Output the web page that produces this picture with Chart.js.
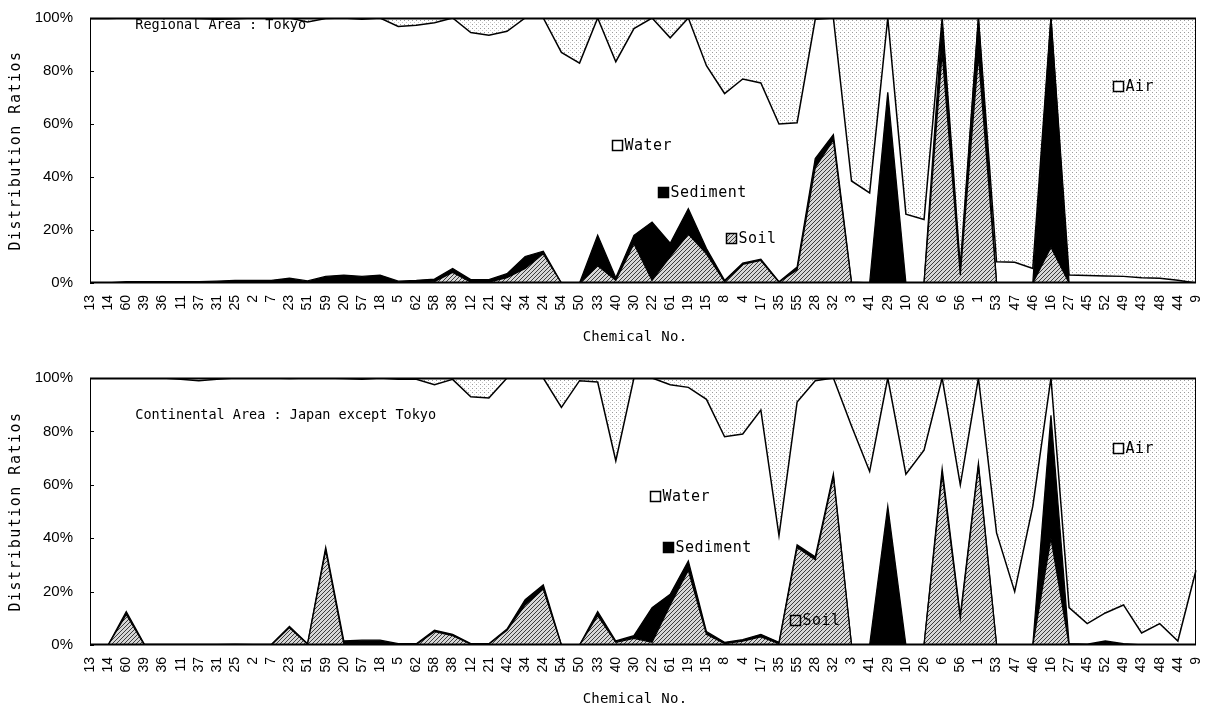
<!DOCTYPE html>
<html>
<head>
<meta charset="utf-8">
<script src="https://cdn.jsdelivr.net/npm/chart.js@4.4.1/dist/chart.umd.min.js"></script>
<style>
  html, body { margin: 0; padding: 0; background: #fff; }
  #wrap { position: relative; width: 1205px; height: 713px; }
  .box { position: absolute; left: 0; width: 1205px; }
</style>
</head>
<body>
<div id="wrap">
  <div class="box" style="top:0;height:356px"><canvas id="tokyo"></canvas></div>
  <div class="box" style="top:356px;height:357px"><canvas id="japan"></canvas></div>
</div>
<script>
// ─── DATA ─────────────────────────────────────────────────────────────────────

const chemicalNo = ['13','14','60','39','36','11','37','31','25','2','7','23','51','59','20','57','18','5','62','58',
  '38','12','21','42','34','24','54','50','33','40','30','22','61','19','15','8','4','17','35','55',
  '28','32','3','41','29','10','26','6','56','1','53','47','46','16','27','45','52','49','43','48','44','9'];

const yTicks = [0, 20, 40, 60, 80, 100];

// Regional area : Tokyo (% of each chemical)
const tokyoSoil = [0,0,0,0,0,0,0,0,0,0, 0,0.3,0,0.3,0.3,0.3,0.3,0,0.2,0.5,
  4,0.3,0.3,2,5.5,11,0,0,6.5,1, 14.8,1,10,18.5,11,0.5,7,8.5,0.3,5,
  43.5,54,0,0,0,0,0,87,3,86, 0,0,0,13.5,0,0,0,0,0,0,0,0];
const tokyoSediment = [0,0,0.5,0.5,0.5,0.5,0.5,0.7,1,1, 1,1.5,0.8,2.2,2.7,2.2,2.7,0.7,0.8,1,
  1.5,1,1,1.5,4.5,1,0,0,11.5,1, 3.2,22,5,9.5,2,0.5,0.5,0.5,0.2,1,
  3.5,2,0.3,0,72,0,0,11,0.5,14, 0,0,0,86.5,0,0,0,0,0,0,0,0];
const tokyoWater = [99.8,99.8,99.5,99.5,99.5,99.5,99.3,98.8,98.7,99, 99,98.2,97.7,97.3,97,97,97,96.1,96.3,96.7,
  94.5,93.2,92.2,91.5,90,88,87,83,82,81.5, 78,77,77.5,72,69,70.5,69.5,66.5,59.5,54.5,
  52.5,44,38.2,34,28,26,24,2,2.5,0, 8,7.8,5.5,0,3,2.8,2.6,2.5,2,1.8,1,0];
const tokyoAir = [0.2,0.2,0,0,0,0,0.2,0.5,0.3,0, 0,0,1.5,0.2,0,0.5,0,3.2,2.7,1.8,
  0,5.5,6.5,5,0,0,13,17,0,16.5, 4,0,7.5,0,18,28.5,23,24.5,40,39.5,
  0.5,0,61.5,66,0,74,76,0,94,0, 92,92.2,94.5,0,97,97.2,97.4,97.5,98,98.2,99,100];

// Continental area : Japan except Tokyo
const japanSoil = [0,0,11.5,0,0,0,0,0,0,0, 0,6.5,0.3,35.5,0.3,0,0.2,0,0.2,5,
  3.5,0.3,0.3,5.5,15,21,0,0,11,1, 2.5,1,15,28,4,0.5,1.5,3,0.5,36.5,
  32,63,0,0,0,0,0,64,10,67, 0,0,0,40,0,0,0.5,0,0,0,0,0];
const japanSediment = [0,0,1,0.3,0.2,0.2,0.2,0.2,0.3,0.2, 0.2,0.5,0.2,1,1.2,1.8,1.6,0.5,0.3,0.5,
  0.5,0.2,0.2,0.5,2,1.5,0,0,1.5,0.5, 1,13,4,3.5,1,0.5,0.5,1,0.5,1,
  1,1,0,0,52,0,0,2,1,1, 0,0,0,46,0.5,0.3,1,0.5,0,0,0,0];
const japanWater = [100,100,87.5,99.7,99.8,99.3,98.8,99.3,99.7,99.8, 99.8,92.8,99.5,63.5,98.3,97.7,98.2,99,99,92,
  95.5,92.5,92,94,83,77.5,89,99,86,67.5, 96.5,86,78.5,65,87,77,77,84,40,53.5,
  66,36,82,65,48,64,73,34,49,32, 42,20,52,14,13.5,7.7,10.5,14.5,4.5,8,1.5,28];
const japanAir = [0,0,0,0,0,0.5,1,0.5,0,0, 0,0.2,0,0,0.2,0.5,0,0.5,0.5,2.5,
  0.5,7,7.5,0,0,0,11,1,1.5,31, 0,0,2.5,3.5,8,22,21,12,59,9,
  1,0,18,35,0,36,27,0,40,0, 58,80,48,0,86,92,88,85,95.5,92,98.5,72];

// ─── FILL PATTERNS ────────────────────────────────────────────────────────────

function makePattern(size, draw) {
  const c = document.createElement('canvas');
  c.width = c.height = size;
  const g = c.getContext('2d');
  draw(g);
  return g.createPattern(c, 'repeat');
}

const soilFill = makePattern(4, g => {
  g.fillStyle = '#d6d6d6';
  g.fillRect(0, 0, 4, 4);
  g.fillStyle = '#3c3c3c';
  for (let i = 0; i < 4; i++) g.fillRect(i, 3 - i, 1, 1);
});

const airFill = makePattern(4, g => {
  g.fillStyle = '#ffffff';
  g.fillRect(0, 0, 4, 4);
  g.fillStyle = '#9a9a9a';
  g.fillRect(0, 0, 1, 1);
  g.fillStyle = '#c8c8c8';
  g.fillRect(2, 2, 1, 1);
});

const MONO = '"DejaVu Sans Mono", "Liberation Mono", monospace';
const SANS = '"Liberation Sans", Arial, sans-serif';

// ─── DECORATION PLUGIN ────────────────────────────────────────────────────────

const decor = {
  id: 'decor',
  afterDatasetsDraw(chart, args, opts) {
    const { ctx, chartArea: a, scales: { x, y } } = chart;
    ctx.save();
    ctx.strokeStyle = '#000';

    // frame
    ctx.lineWidth = 1;
    ctx.strokeRect(a.left + 0.5, a.top + 0.5, a.width - 1, a.height - 1);
    ctx.lineWidth = 2;
    ctx.beginPath();
    ctx.moveTo(a.left, a.top + 0.5);
    ctx.lineTo(a.right, a.top + 0.5);
    ctx.moveTo(a.left, a.bottom - 0.5);
    ctx.lineTo(a.right, a.bottom - 0.5);
    ctx.stroke();

    // small inner ticks on the left axis
    ctx.lineWidth = 1;
    ctx.beginPath();
    yTicks.forEach(v => {
      const py = Math.round(y.getPixelForValue(v)) + 0.5;
      ctx.moveTo(a.left, py);
      ctx.lineTo(a.left + 4, py);
    });
    ctx.stroke();

    // area caption
    ctx.fillStyle = '#000';
    ctx.textBaseline = 'middle';
    ctx.textAlign = 'left';
    ctx.font = '13.5px ' + MONO;
    ctx.fillText(opts.caption, x.getPixelForValue(opts.captionAt[0]), y.getPixelForValue(opts.captionAt[1]));

    // legend tags
    ctx.font = '15px ' + MONO;
    ctx.letterSpacing = '0.5px';
    opts.tags.forEach(t => {
      const px = Math.round(x.getPixelForValue(t.at[0])) + 0.5;
      const py = Math.round(y.getPixelForValue(t.at[1])) + 0.5;
      ctx.fillStyle = t.fill;
      ctx.fillRect(px, py - 5, 10, 10);
      ctx.lineWidth = 1.5;
      ctx.strokeRect(px, py - 5, 10, 10);
      ctx.fillStyle = '#000';
      ctx.fillText(t.text, px + 12, py + 1);
    });
    ctx.restore();
  },
  afterDraw(chart) {
    const { ctx, chartArea: a } = chart;
    ctx.save();
    ctx.fillStyle = '#000';
    ctx.textAlign = 'center';
    ctx.textBaseline = 'middle';
    ctx.font = '14px ' + MONO;
    ctx.letterSpacing = '0.3px';
    ctx.fillText('Chemical No.', (a.left + a.right) / 2 - 8, a.bottom + 54);

    ctx.translate(16, (a.top + a.bottom) / 2);
    ctx.rotate(-Math.PI / 2);
    ctx.font = '15px ' + MONO;
    ctx.letterSpacing = '1.5px';
    ctx.fillText('Distribution Ratios', 0, 0);
    ctx.restore();
  }
};

// ─── CHART BUILDER ────────────────────────────────────────────────────────────

function series(label, data, fill, bg, border) {
  return {
    label, data, fill,
    backgroundColor: bg,
    borderColor: '#000',
    borderWidth: border,
    pointRadius: 0,
    pointHoverRadius: 0,
    tension: 0,
  };
}

function buildChart(id, soil, sediment, water, air, padTop, axisHeight, decorOpts) {
  return new Chart(document.getElementById(id), {
    type: 'line',
    data: {
      labels: chemicalNo,
      datasets: [
        series('Soil', soil, 'origin', soilFill, 1.3),
        series('Sediment', sediment, '-1', '#000', 1.3),
        series('Water', water, '-1', '#fff', 1.5),
        series('Air', air, '-1', airFill, 0),
      ]
    },
    options: {
      responsive: true,
      maintainAspectRatio: false,
      animation: false,
      devicePixelRatio: 1,
      layout: { padding: { top: padTop, right: 9, left: 0, bottom: 0 } },
      plugins: {
        legend: { display: false },
        tooltip: { enabled: false },
        decor: decorOpts,
      },
      scales: {
        x: {
          offset: false,
          grid: { display: false },
          border: { display: false },
          ticks: {
            autoSkip: false, maxRotation: 90, minRotation: 90,
            padding: 4, color: '#000', font: { family: SANS, size: 14 }
          },
          afterFit: s => {
            s.height = axisHeight;
            s.paddingLeft = 0;
            s.paddingRight = 0;
          }
        },
        y: {
          stacked: true,
          min: 0, max: 100,
          grid: { display: false },
          border: { display: false },
          ticks: {
            stepSize: 20, padding: 9, color: '#000',
            font: { family: SANS, size: 15 },
            callback: v => v + '%'
          },
          afterFit: s => { s.width = 90; }
        }
      }
    },
    plugins: [decor]
  });
}

buildChart('tokyo', tokyoSoil, tokyoSediment, tokyoWater, tokyoAir, 17, 73, {
  caption: 'Regional Area : Tokyo',
  captionAt: [2.5, 97],
  tags: [
    { text: 'Air', at: [56.4, 74.4], fill: '#fff' },
    { text: 'Water', at: [28.8, 51.9], fill: '#fff' },
    { text: 'Sediment', at: [31.3, 34.2], fill: '#000' },
    { text: 'Soil', at: [35.1, 16.9], fill: soilFill },
  ]
});

buildChart('japan', japanSoil, japanSediment, japanWater, japanAir, 22, 68, {
  caption: 'Continental Area : Japan except Tokyo',
  captionAt: [2.5, 85.8],
  tags: [
    { text: 'Air', at: [56.4, 73.8], fill: '#fff' },
    { text: 'Water', at: [30.9, 55.8], fill: '#fff' },
    { text: 'Sediment', at: [31.6, 36.7], fill: '#000' },
    { text: 'Soil', at: [38.6, 9.4], fill: soilFill },
  ]
});
</script>
</body>
</html>
